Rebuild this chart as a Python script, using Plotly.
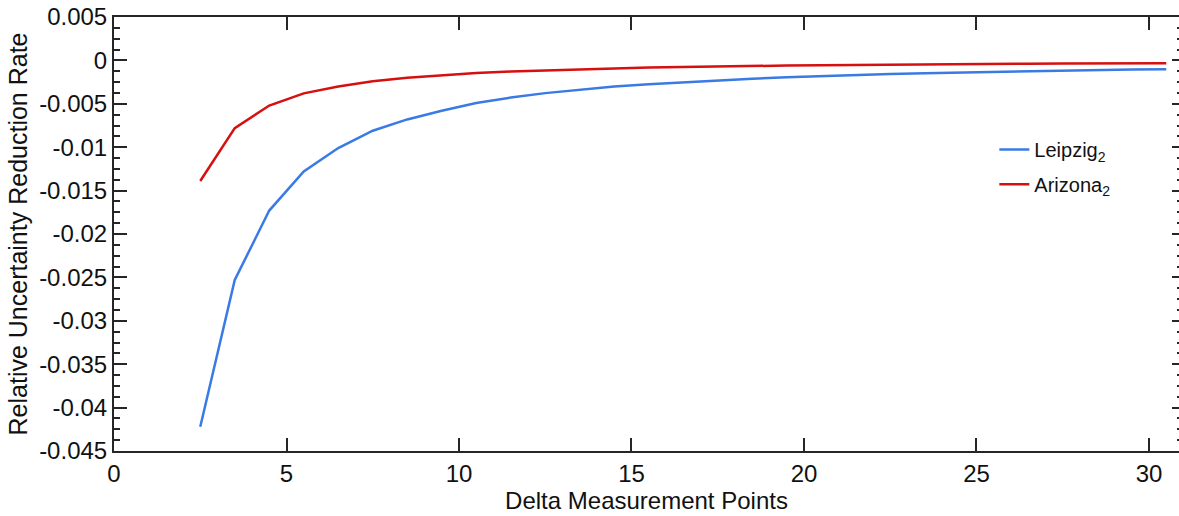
import plotly.graph_objects as go

delta_points = [2.5, 3.5, 4.5, 5.5, 6.5, 7.5, 8.5, 9.5, 10.5, 11.5, 12.5, 13.5, 14.5, 15.5,
                16.5, 17.5, 18.5, 19.5, 20.5, 21.5, 22.5, 23.5, 24.5, 25.5, 26.5, 27.5,
                28.5, 29.5, 30.5]

leipzig = [-0.0422, -0.0253, -0.0173, -0.0128, -0.0101, -0.0081, -0.0068, -0.0058, -0.0049,
           -0.00428, -0.00377, -0.00336, -0.00302, -0.00274, -0.0025, -0.00229, -0.0021,
           -0.00194, -0.0018, -0.00168, -0.00157, -0.00147, -0.00139, -0.00131, -0.00123,
           -0.00117, -0.00111, -0.00106, -0.00101]

arizona = [-0.0139, -0.0078, -0.0052, -0.0038, -0.0030, -0.0024, -0.00201, -0.0017, -0.00146,
           -0.00128, -0.00114, -0.00102, -0.00092, -0.00083, -0.00075, -0.00069, -0.00064,
           -0.00059, -0.00055, -0.00051, -0.00048, -0.00045, -0.00043, -0.00041, -0.00039,
           -0.00037, -0.00036, -0.00035, -0.00034]

y_tickvals = [0.005, 0, -0.005, -0.01, -0.015, -0.02, -0.025, -0.03, -0.035, -0.04, -0.045]
y_ticktext = ["0.005", "0", "-0.005", "-0.01", "-0.015", "-0.02", "-0.025", "-0.03",
              "-0.035", "-0.04", "-0.045"]
x_tickvals = [0, 5, 10, 15, 20, 25, 30]

FONT = "Liberation Sans, Arial, Helvetica, sans-serif"
AX = "#262626"

fig = go.Figure()
fig.add_trace(go.Scatter(x=delta_points, y=leipzig, mode="lines", name="Leipzig<sub>2</sub>",
                         legend="legend", line=dict(color="#3a7ae4", width=2.5)))
fig.add_trace(go.Scatter(x=delta_points, y=arizona, mode="lines", name="Arizona<sub>2</sub>",
                         legend="legend2", line=dict(color="#d60f0f", width=2.5)))
# invisible trace to carry the right-hand tick axis
fig.add_trace(go.Scatter(x=delta_points, y=arizona, mode="lines", yaxis="y2", showlegend=False,
                         hoverinfo="skip", line=dict(color="rgba(0,0,0,0)", width=0)))

leg_common = dict(xanchor="left", yanchor="top", bgcolor="rgba(0,0,0,0)",
                  font=dict(size=20, family=FONT, color="#111111"))

fig.update_layout(
    width=1179, height=516,
    margin=dict(l=114, r=0, t=17, b=65, autoexpand=False),
    paper_bgcolor="white", plot_bgcolor="white",
    font=dict(family=FONT, size=24, color="#111111"),
    showlegend=True,
    legend=dict(x=0.8266, y=0.7395, **leg_common),
    legend2=dict(x=0.8266, y=0.6595, **leg_common),
    xaxis=dict(range=[0, 30.87], tickvals=x_tickvals, ticks="inside", ticklen=13, tickwidth=1.5,
               tickcolor=AX, showline=True, linecolor=AX, linewidth=2, mirror="ticks",
               showgrid=False, zeroline=False, tickfont=dict(size=24), automargin=True,
               title=dict(text="Delta Measurement Points", font=dict(size=24), standoff=4)),
    yaxis=dict(range=[-0.045, 0.005], tickvals=y_tickvals, ticktext=y_ticktext,
               ticks="inside", ticklen=13, tickwidth=1.5, tickcolor=AX,
               showline=True, linecolor=AX, linewidth=2, showgrid=False, zeroline=False,
               tickfont=dict(size=24), automargin=True,
               minor=dict(dtick=0.00125, ticks="inside", ticklen=6, tickwidth=1.5, tickcolor=AX),
               title=dict(text="Relative Uncertainty Reduction Rate", font=dict(size=25), standoff=4)),
    yaxis2=dict(range=[-0.045, 0.005], overlaying="y", side="right", tickvals=y_tickvals,
                showticklabels=False, ticks="inside", ticklen=7, tickwidth=1.5, tickcolor=AX,
                showline=False, showgrid=False, zeroline=False, automargin=False,
                minor=dict(dtick=0.00125, ticks="inside", ticklen=2, tickwidth=1.5, tickcolor=AX)),
)

fig.write_html("out.html", config={"displayModeBar": False},
               post_script="document.body.style.margin='0';document.body.style.overflow='hidden';")
